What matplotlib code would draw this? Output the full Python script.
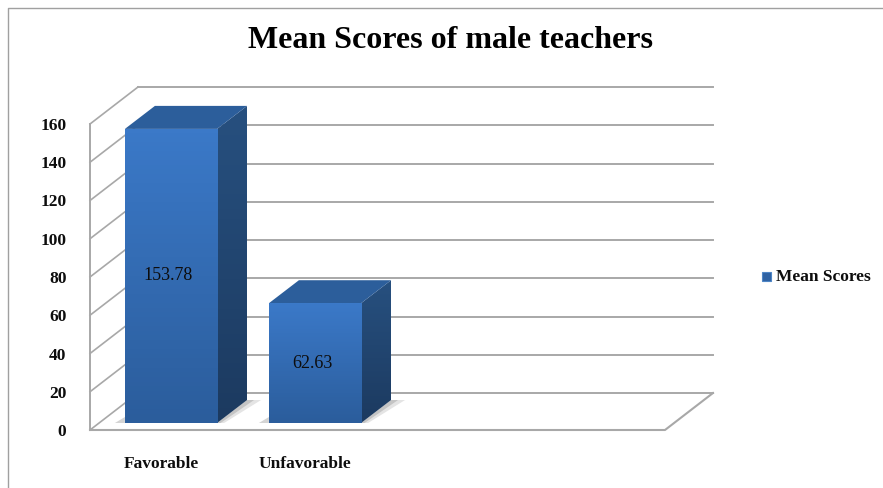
#!/usr/bin/env python3
"""Mean scores of male teachers, drawn as a fake 3D column chart."""

import matplotlib

matplotlib.use("Agg")

import matplotlib.pyplot as plt
import numpy as np
from matplotlib.colors import LinearSegmentedColormap
from matplotlib.patches import Polygon, Rectangle

categories = ["Favorable", "Unfavorable"]
mean_scores = [153.78, 62.63]
y_ticks = [0, 20, 40, 60, 80, 100, 120, 140, 160]

W, H = 883, 488
SERIF = "Liberation Serif"
C_GRID = "#a8a8a8"
C_TEXT = "#0d0d0d"

# sizes of the fake perspective, in pixels
PX_Y = 1.9125  # pixels per value unit
PX_X = 144.0  # pixels per category
WALL_DX, WALL_DY = 48, 37
BAR_DX, BAR_DY = 30, 23
BAR_LIFT = 7
BAR_W = 0.64

FRONT = LinearSegmentedColormap.from_list("front", ["#2b5d9c", "#3b79c8"])
SIDE = LinearSegmentedColormap.from_list("side", ["#1c3a60", "#27507f"])


def px_x(px):
    return px / PX_X


def px_y(px):
    return px / PX_Y


def draw_walls(ax, xmin, floor_right):
    dx, dy = px_x(WALL_DX), px_y(WALL_DY)
    for v in y_ticks:
        ax.plot([xmin, xmin + dx], [v, v + dy], color=C_GRID, lw=1.2, zorder=1, clip_on=False)
        ax.plot([xmin + dx, floor_right + dx], [v + dy, v + dy], color=C_GRID, lw=1.4, zorder=1, clip_on=False)
    ax.plot([xmin, xmin], [0, y_ticks[-1]], color=C_GRID, lw=1.4, zorder=1, clip_on=False)
    ax.plot([xmin, floor_right, floor_right + dx], [0, 0, dy], color=C_GRID, lw=1.5, zorder=1, clip_on=False)


def draw_bar(ax, x, value):
    lift = px_y(BAR_LIFT)
    dx, dy = px_x(BAR_DX), px_y(BAR_DY)
    left, right = x - BAR_W / 2, x + BAR_W / 2
    top = lift + value

    # soft shadow on the floor
    for reach, colour in ((14, "#e4e4e4"), (7, "#c4c4c4")):
        ax.add_patch(Polygon(
            [(right, lift), (right + dx, lift + dy), (right + dx + px_x(reach), lift + dy),
             (right + px_x(reach / 2), lift)],
            facecolor=colour, edgecolor="none", zorder=2))
    ax.add_patch(Polygon(
        [(left - px_x(10), lift), (left, lift + px_y(6)), (left, lift)],
        facecolor="#d4d4d4", edgecolor="none", zorder=2))

    side = Polygon([(right, lift), (right + dx, lift + dy), (right + dx, top + dy), (right, top)],
                   facecolor="none", edgecolor="none", zorder=3)
    ax.add_patch(side)
    img = ax.imshow(np.linspace(0, 1, 64).reshape(-1, 1), cmap=SIDE, origin="lower", aspect="auto",
                    extent=(right, right + dx, lift, top + dy), zorder=3)
    img.set_clip_path(side)

    ax.add_patch(Polygon([(left, top), (left + dx, top + dy), (right + dx, top + dy), (right, top)],
                         facecolor="#2c5e9b", edgecolor="none", zorder=4))

    front = ax.bar(x, value, BAR_W, bottom=lift, color="none", zorder=5)[0]
    img = ax.imshow(np.linspace(0, 1, 64).reshape(-1, 1), cmap=FRONT, origin="lower", aspect="auto",
                    extent=(left, right, lift, top), zorder=5)
    img.set_clip_path(front)

    ax.text(x - px_x(3), lift + value / 2, f"{value:.2f}", ha="center", va="center",
            fontsize=13, family=SERIF, color=C_TEXT, zorder=6)


def main():
    fig = plt.figure(figsize=(W / 100, H / 100), dpi=100, facecolor="white")
    ax = fig.add_axes([90 / W, (H - 430) / H, 625 / W, 344 / H])

    xmin = px_x(-81)
    xmax = px_x(625 - 81)
    ymax = 344 / PX_Y
    floor_right = xmin + px_x(575)

    xs = np.arange(len(categories))
    draw_walls(ax, xmin, floor_right)
    for x, value in zip(xs, mean_scores):
        draw_bar(ax, x, value)

    ax.set_xlim(xmin, xmax)
    ax.set_ylim(0, ymax)
    for spine in ax.spines.values():
        spine.set_visible(False)
    ax.patch.set_visible(False)

    ax.set_yticks(y_ticks)
    ax.set_xticks(xs - px_x(10), categories)
    ax.tick_params(axis="y", length=0, pad=17)
    ax.tick_params(axis="x", length=0, pad=19)
    for label in ax.get_xticklabels() + ax.get_yticklabels():
        label.set_fontfamily(SERIF)
        label.set_fontweight("bold")
        label.set_fontsize(12.5)
        label.set_color(C_TEXT)

    fig.text(451 / W, 1 - 41 / H, "Mean Scores of male teachers", ha="center", va="center",
             fontsize=23, fontweight="bold", family=SERIF, color="black")

    # legend
    fig.add_artist(Rectangle((762 / W, 1 - 281 / H), 9 / W, 9 / H, transform=fig.transFigure,
                             facecolor="#2f62a3", edgecolor="#4f86c6", lw=0.8))
    fig.text(776 / W, 1 - 277 / H, "Mean Scores", ha="left", va="center", fontsize=12.5,
             fontweight="bold", family=SERIF, color=C_TEXT)

    # chart frame: only top and left edges are in the crop
    fig.add_artist(plt.Line2D([8 / W, 8 / W, 1], [0, 1 - 8 / H, 1 - 8 / H], transform=fig.transFigure,
                              color="#a0a0a0", lw=1.0))

    fig.savefig("out.png", dpi=100, facecolor="white")
    plt.close(fig)


if __name__ == "__main__":
    main()
